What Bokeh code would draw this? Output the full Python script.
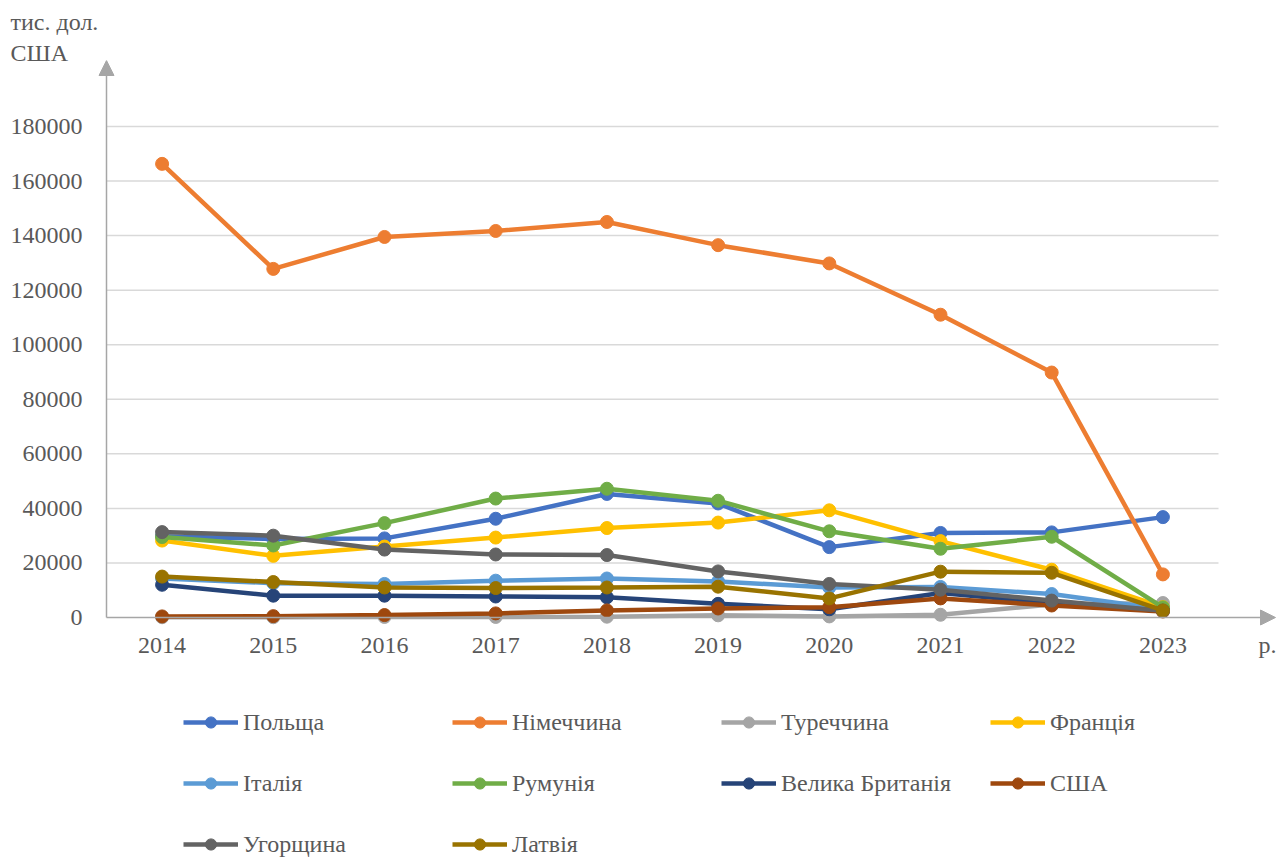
from bokeh.plotting import figure
from bokeh.models import (Range1d, FixedTicker, NumeralTickFormatter, Arrow, NormalHead,
                          Title, Legend, LegendItem)
from bokeh.embed import file_html
from bokeh.resources import INLINE

years = ["2014", "2015", "2016", "2017", "2018", "2019", "2020", "2021", "2022", "2023"]

poland  = [29800, 28800, 29000, 36200, 45300, 41800, 25800, 31000, 31200, 36800]
germany = [166300, 127800, 139500, 141700, 145000, 136500, 129800, 111000, 89800, 15800]
turkey  = [100, 100, 200, 200, 300, 800, 400, 1000, 4800, 5300]
france  = [28200, 22600, 26000, 29300, 32800, 34800, 39300, 28000, 17500, 3800]
italy   = [14300, 12600, 12300, 13500, 14300, 13200, 11000, 11200, 8600, 3000]
romania = [29500, 26400, 34600, 43600, 47200, 42800, 31600, 25200, 29600, 3700]
uk      = [12000, 8000, 8000, 7700, 7400, 5000, 3000, 9000, 5300, 2500]
usa     = [400, 500, 900, 1500, 2600, 3300, 3800, 7000, 4400, 2200]
hungary = [31300, 30000, 24900, 23100, 22900, 16900, 12300, 10200, 6200, 2500]
latvia  = [15000, 13000, 11000, 10800, 11000, 11300, 7000, 16800, 16400, 2600]

names = ["Польща", "Німеччина", "Туреччина", "Франція", "Італія", "Румунія",
         "Велика Британія", "США", "Угорщина", "Латвія"]
series = [poland, germany, turkey, france, italy, romania, uk, usa, hungary, latvia]
colors = ["#4472C4", "#ED7D31", "#A5A5A5", "#FFC000", "#5B9BD5", "#70AD47",
          "#264478", "#9E480E", "#636363", "#997300"]
y_ticks = [0, 20000, 40000, 60000, 80000, 100000, 120000, 140000, 160000, 180000]
y_title = ["тис. дол.", "США"]
x_unit = "р."

FONT = "Liberation Serif"
TXT = "#595959"
AX = "#A6A6A6"

# geometry (pixels)
W, H = 1279, 859
FRAME_L, TOP = 90, 60
AXIS_X = 106                        # page column of the value axis
ZERO_Y = 617                        # page row of value 0
ARROW_TOP = 60
px_per_cat = 111.2
y_per_px = 180000 / 491.0
y_end = (ZERO_Y - TOP) * y_per_px
y_start = -(H - ZERO_Y) * y_per_px
x_start = -0.5 - (AXIS_X - FRAME_L) / px_per_cat
x_end = x_start + (W - FRAME_L) / px_per_cat
unit_pos = (1267 - AXIS_X) / px_per_cat - 0.5

p = figure(width=W, height=H, output_backend="svg", toolbar_location=None,
           x_range=Range1d(x_start, x_end), y_range=Range1d(y_start, y_end),
           min_border_left=FRAME_L, min_border_right=0, min_border_top=TOP,
           min_border_bottom=0, outline_line_color=None)
p.xgrid.visible = False
p.ygrid.visible = False

# gridlines
gy = [v for v in y_ticks if v > 0]
p.segment(x0=[-0.5] * len(gy), x1=[9.5] * len(gy), y0=gy, y1=gy,
          line_color="#D9D9D9", line_width=1.5)

xs = list(range(len(years)))
items = []
for name, vals, c in zip(names, series, colors):
    lr = p.line(xs, vals, line_color=c, line_width=4.5)
    sr = p.scatter(xs, vals, size=13, fill_color=c, line_color=c)
    items.append(LegendItem(label=name, renderers=[lr, sr]))

# axes (x axis fixed at value 0, inside the frame)
p.xaxis.fixed_location = 0
p.xaxis.ticker = FixedTicker(ticks=xs + [unit_pos])
ov = {i: y for i, y in enumerate(years)}
ov[unit_pos] = x_unit
p.xaxis.major_label_overrides = ov
p.yaxis.ticker = FixedTicker(ticks=y_ticks)
p.yaxis.formatter = NumeralTickFormatter(format="0")
for ax in (p.xaxis[0], p.yaxis[0]):
    ax.axis_line_color = None
    ax.major_tick_line_color = None
    ax.minor_tick_line_color = None
    ax.major_label_text_font = FONT
    ax.major_label_text_font_size = "24px"
    ax.major_label_text_color = TXT
p.yaxis.major_label_standoff = 2
p.xaxis.major_label_standoff = 8

# arrow axes
p.add_layout(Arrow(end=NormalHead(size=15, fill_color=AX, line_color=AX),
                   x_start=-0.5, y_start=0, x_end=-0.5,
                   y_end=(ZERO_Y - ARROW_TOP) * y_per_px,
                   line_color=AX, line_width=1.5))
p.add_layout(Arrow(end=NormalHead(size=15, fill_color=AX, line_color=AX),
                   x_start=-0.5, y_start=0, x_end=(1275 - AXIS_X) / px_per_cat - 0.5, y_end=0,
                   line_color=AX, line_width=1.5))

# axis titles (above panel; first added = nearest the frame)
for t, so, va in zip(reversed(y_title), [-10, 12], ["bottom", "top"]):
    p.add_layout(Title(text=t, align="left", offset=10 - FRAME_L, standoff=so,
                       vertical_align=va,
                       text_font=FONT, text_font_size="24px", text_font_style="normal",
                       text_color=TXT), "above")

legend = Legend(items=items, location=(183 - FRAME_L, 1), orientation="horizontal",
                ncols=4, glyph_width=55, glyph_height=28, label_width=176, label_height=28,
                label_standoff=5, spacing=33, padding=0, margin=0,
                border_line_color=None, background_fill_alpha=0,
                label_text_font=FONT, label_text_font_size="24px",
                label_text_color=TXT)
p.add_layout(legend)

open("out.html", "w").write(file_html(p, INLINE))
